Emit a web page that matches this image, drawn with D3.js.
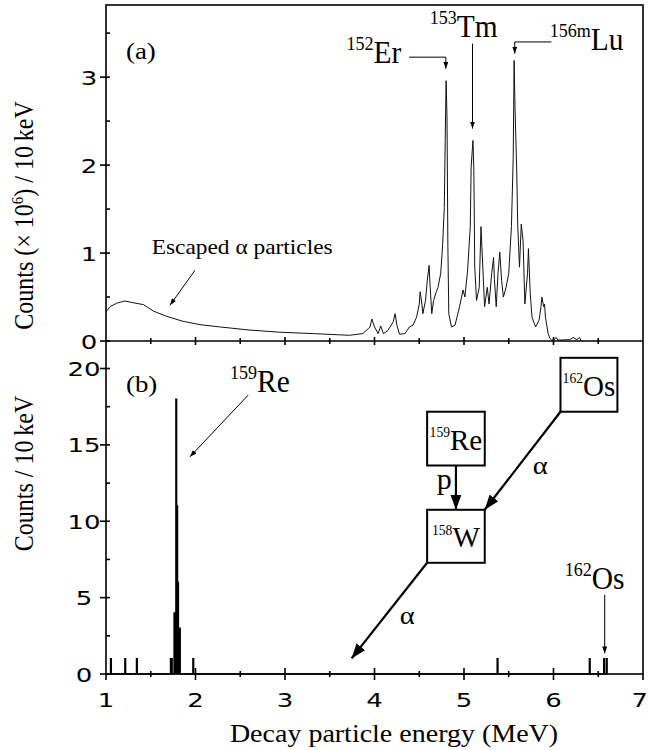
<!DOCTYPE html>
<html>
<head>
<meta charset="utf-8">
<script src="https://cdnjs.cloudflare.com/ajax/libs/d3/7.8.5/d3.min.js"></script>
<style>
  html, body { margin: 0; padding: 0; background: #fff; }
  svg { display: block; }
</style>
</head>
<body>
<svg id="chart" width="648" height="750"></svg>
<script>
// panel (a): alpha spectrum, energy in MeV, counts in units of 10^6 per 10 keV
const energyA = [1.00, 1.045, 1.12, 1.21, 1.30, 1.42, 1.53, 1.68, 1.86, 2.05, 2.27, 2.60, 2.94, 3.32, 3.72,
  3.87, 3.93, 3.95, 3.97, 4.00, 4.04, 4.07, 4.10, 4.15, 4.21, 4.23, 4.25, 4.28, 4.34, 4.39, 4.43, 4.47,
  4.50, 4.51, 4.53, 4.54, 4.57, 4.59, 4.61, 4.62, 4.64, 4.66, 4.69, 4.71, 4.74, 4.76, 4.78, 4.79, 4.80,
  4.81, 4.82, 4.83, 4.86, 4.90, 4.95, 4.99, 5.01, 5.04, 5.07, 5.08, 5.10, 5.11, 5.12, 5.14, 5.17, 5.19,
  5.20, 5.23, 5.26, 5.28, 5.31, 5.33, 5.34, 5.36, 5.38, 5.40, 5.42, 5.44, 5.47, 5.50, 5.53, 5.55, 5.56,
  5.57, 5.59, 5.60, 5.62, 5.64, 5.66, 5.68, 5.71, 5.72, 5.74, 5.76, 5.80, 5.84, 5.86, 5.87, 5.89, 5.90,
  5.91, 5.94, 5.96, 5.98, 6.00, 6.03, 6.05, 6.18, 6.22, 6.26, 6.29, 6.31];
const countsA = [0.33, 0.39, 0.43, 0.455, 0.436, 0.413, 0.34, 0.28, 0.224, 0.186, 0.16, 0.125, 0.10, 0.084, 0.065,
  0.084, 0.14, 0.16, 0.25, 0.16, 0.084, 0.17, 0.084, 0.12, 0.22, 0.31, 0.18, 0.076, 0.084, 0.16, 0.18, 0.27,
  0.42, 0.56, 0.42, 0.31, 0.46, 0.69, 0.86, 0.65, 0.31, 0.46, 0.56, 0.61, 0.77, 1.07, 1.52, 2.28, 2.96,
  2.55, 1.07, 0.31, 0.16, 0.18, 0.39, 0.58, 0.50, 0.80, 1.30, 1.98, 2.28, 1.94, 0.84, 0.46, 0.61, 1.30,
  1.07, 0.39, 0.61, 0.42, 0.77, 0.95, 0.70, 0.39, 0.77, 1.01, 0.69, 0.50, 0.61, 0.77, 1.30, 2.09, 3.19,
  2.66, 1.90, 1.33, 0.84, 1.33, 1.14, 0.42, 0.77, 1.05, 0.54, 0.27, 0.16, 0.24, 0.39, 0.50, 0.39, 0.42,
  0.27, 0.084, 0.03, 0.01, 0.01, 0.04, 0.01, 0.015, 0.04, 0.015, 0.04, 0.0];

// panel (b): 10 keV bins (left edge in MeV) and their counts
const binsB = [1.05, 1.21, 1.34, 1.72, 1.73, 1.76, 1.77, 1.78, 1.79, 1.80, 1.81, 1.82, 1.97, 5.37, 6.40, 6.56, 6.59];
const countsB = [1, 1, 1, 1, 1, 4, 4, 18, 11, 6, 3, 3, 1, 1, 1, 1, 1];
const binWidth = 0.01;

// axes
const xTicks = [1, 2, 3, 4, 5, 6, 7];
const xMinor = [1.5, 2.5, 3.5, 4.5, 5.5, 6.5];
const yTicksA = [0, 1, 2, 3];
const yMinorA = [0.5, 1.5, 2.5, 3.5];
const yTicksB = [0, 5, 10, 15, 20];
const yMinorB = [2.5, 7.5, 12.5, 17.5];

const serif = "'Liberation Serif', 'Times New Roman', serif";
const sans = "'DejaVu Sans', Verdana, sans-serif";

const svg = d3.select("#chart");
const pLeft = 106, pRight = 643, pTop = 5, pMid = 341, pBottom = 674;

const x = d3.scaleLinear().domain([1, 7]).range([pLeft, pRight]);
const yA = d3.scaleLinear().domain([0, 3.82]).range([pMid, pTop]);
const yB = d3.scaleLinear().domain([0, 21.8]).range([pBottom, pMid]);

// arrow heads
const defs = svg.append("defs");
function marker(id, w, h) {
  defs.append("marker")
    .attr("id", id)
    .attr("viewBox", `0 0 ${w} ${h}`)
    .attr("refX", w).attr("refY", h / 2)
    .attr("markerWidth", w).attr("markerHeight", h)
    .attr("markerUnits", "userSpaceOnUse")
    .attr("orient", "auto")
    .append("path")
    .attr("d", `M0,0L${w},${h / 2}L0,${h}Z`)
    .attr("fill", "#000");
}
marker("thin", 7, 5);
marker("thick", 15, 11);

// spectra
const lineA = d3.line().x(d => x(d[0])).y(d => yA(d[1]));
svg.append("path")
  .datum(d3.zip(energyA, countsA))
  .attr("d", lineA)
  .attr("fill", "none")
  .attr("stroke", "#111")
  .attr("stroke-width", 1)
  .attr("stroke-linejoin", "round");

const stepPts = [];
binsB.forEach((e, i) => {
  stepPts.push([e, 0], [e, countsB[i]], [e + binWidth, countsB[i]], [e + binWidth, 0]);
});
const lineB = d3.line().x(d => x(d[0])).y(d => yB(d[1]));
svg.append("path")
  .datum(stepPts)
  .attr("d", lineB)
  .attr("fill", "none")
  .attr("stroke", "#000")
  .attr("stroke-width", 1.3);

// frame
const axisG = svg.append("g").attr("stroke", "#000").attr("stroke-width", 1.6).attr("fill", "none");
axisG.append("rect").attr("x", pLeft).attr("y", pTop).attr("width", pRight - pLeft).attr("height", pBottom - pTop);
axisG.append("line").attr("x1", pLeft).attr("x2", pRight).attr("y1", pMid).attr("y2", pMid);

// x ticks on both horizontal axes
[[pMid, 4, 3], [pBottom, 6, 3]].forEach(([yy, big, small]) => {
  axisG.selectAll(null).data(xTicks.slice(1, -1)).join("line")
    .attr("x1", d => x(d)).attr("x2", d => x(d)).attr("y1", yy - big).attr("y2", yy + big);
  axisG.selectAll(null).data(xMinor).join("line")
    .attr("x1", d => x(d)).attr("x2", d => x(d)).attr("y1", yy - small).attr("y2", yy + small);
});
axisG.selectAll(null).data([1, 7]).join("line")
  .attr("x1", d => x(d)).attr("x2", d => x(d)).attr("y1", pBottom).attr("y2", pBottom + 6);

// y ticks
function yTicks(scale, major, minor) {
  axisG.selectAll(null).data(major).join("line")
    .attr("x1", pLeft - 6).attr("x2", pLeft + 4).attr("y1", d => scale(d)).attr("y2", d => scale(d));
  axisG.selectAll(null).data(minor).join("line")
    .attr("x1", pLeft).attr("x2", pLeft + 4).attr("y1", d => scale(d)).attr("y2", d => scale(d));
}
yTicks(yA, yTicksA, yMinorA);
yTicks(yB, yTicksB, yMinorB);

// text helper, stretched horizontally like the original figure
function txt(px, py, str, size, family, anchor = "start", sx = 1.12) {
  return svg.append("text")
    .attr("transform", `translate(${px},${py}) scale(${sx},1)`)
    .attr("font-family", family)
    .attr("font-size", size)
    .attr("text-anchor", anchor)
    .text(str);
}

// tick labels
xTicks.forEach(d => {
  if (d === 7) txt(648, 707, d, 20, sans, "end", 1.3);
  else txt(x(d), 707, d, 20, sans, "middle", 1.3);
});
yTicksA.forEach(d => txt(89, yA(d) + 7.5, d, 20, sans, "middle", 1.3));
yTicksB.forEach(d => txt(84, yB(d) + 7.5, d, 20, sans, "middle", 1.3));

// axis titles
txt(394, 742, "Decay particle energy (MeV)", 25, serif, "middle");

const yl1 = svg.append("text")
  .attr("transform", `translate(33,${(98 + 333) / 2}) rotate(-90) scale(1,1.15)`)
  .attr("font-family", serif).attr("font-size", 24).attr("text-anchor", "middle");
yl1.append("tspan").text("Counts (\u00d7 10");
yl1.append("tspan").attr("font-size", 15).attr("dy", -9).text("6");
yl1.append("tspan").attr("dy", 9).text(") / 10\u2009keV");

svg.append("text")
  .attr("transform", `translate(33,${(390 + 557) / 2}) rotate(-90) scale(1,1.15)`)
  .attr("font-family", serif).attr("font-size", 24).attr("text-anchor", "middle")
  .text("Counts / 10\u2009keV");

// panel letters
txt(x(1.223), yA(3.21), "(a)", 24, serif);
txt(x(1.223), yB(18.47), "(b)", 24, serif);

// isotope label: small mass number then symbol
function iso(px, py, mass, sym, big, small, anchor = "start", sx = 0.95) {
  const t = svg.append("text")
    .attr("transform", `translate(${px},${py}) scale(${sx},1)`)
    .attr("font-family", serif)
    .attr("text-anchor", anchor);
  t.append("tspan").attr("font-size", small).attr("dy", -big * 0.42).text(mass);
  t.append("tspan").attr("font-size", big).attr("dy", big * 0.42).text(sym);
  return t;
}

function arrow(pts, yScale, w, head) {
  svg.append("path")
    .datum(pts)
    .attr("d", d3.line().x(d => x(d[0])).y(d => yScale(d[1])))
    .attr("fill", "none")
    .attr("stroke", "#000")
    .attr("stroke-width", w)
    .attr("marker-end", `url(#${head})`);
}

// panel (a) annotations
iso(x(3.687), yA(3.156), "152", "Er", 31, 19);
arrow([[4.387, 3.227], [4.797, 3.227], [4.797, 3.095]], yA, 1, "thin");
iso(x(4.618), yA(3.455), "153", "Tm", 31, 19);
arrow([[5.095, 3.38], [5.095, 2.415]], yA, 1, "thin");
iso(x(5.958), yA(3.31), "156m", "Lu", 31, 19);
arrow([[5.977, 3.40], [5.567, 3.40], [5.567, 3.267]], yA, 1, "thin");

txt(x(1.51), yA(0.985), "Escaped \u03b1 particles", 20, serif, "start", 1.17);
arrow([[1.994, 0.804], [1.715, 0.406]], yA, 1, "thin");

// panel (b) annotations
iso(x(2.385), yB(18.48), "159", "Re", 31, 19);
arrow([[2.589, 18.26], [1.938, 14.22]], yB, 1, "thin");
iso(x(6.126), yB(5.58), "162", "Os", 31, 19);
arrow([[6.572, 5.19], [6.572, 1.35]], yB, 1, "thin");

// decay scheme boxes (data coords of panel b)
const boxes = [
  { mass: "162", sym: "Os", e0: 6.078, e1: 6.714, c0: 20.70, c1: 17.17 },
  { mass: "159", sym: "Re", e0: 4.588, e1: 5.232, c0: 17.17, c1: 13.65 },
  { mass: "158", sym: "W", e0: 4.588, e1: 5.232, c0: 10.75, c1: 7.28 }
];
boxes.forEach(b => {
  svg.append("rect")
    .attr("x", x(b.e0)).attr("y", yB(b.c0))
    .attr("width", x(b.e1) - x(b.e0)).attr("height", yB(b.c1) - yB(b.c0))
    .attr("fill", "#fff").attr("stroke", "#000").attr("stroke-width", 2);
  iso((x(b.e0) + x(b.e1)) / 2, (yB(b.c0) + yB(b.c1)) / 2 + 11, b.mass, b.sym, 30, 14, "middle", 0.97);
});

arrow([[6.078, 17.17], [5.232, 10.75]], yB, 2.2, "thick");
arrow([[4.910, 13.65], [4.910, 10.75]], yB, 2.2, "thick");
arrow([[4.588, 7.28], [3.744, 1.02]], yB, 2.2, "thick");

txt(x(4.696), yB(12.1), "p", 30, serif, "start", 1.0);
txt(x(5.768), yB(13.12), "\u03b1", 26, serif, "start", 1.1);
txt(x(4.283), yB(3.3), "\u03b1", 26, serif, "start", 1.1);
</script>
</body>
</html>
